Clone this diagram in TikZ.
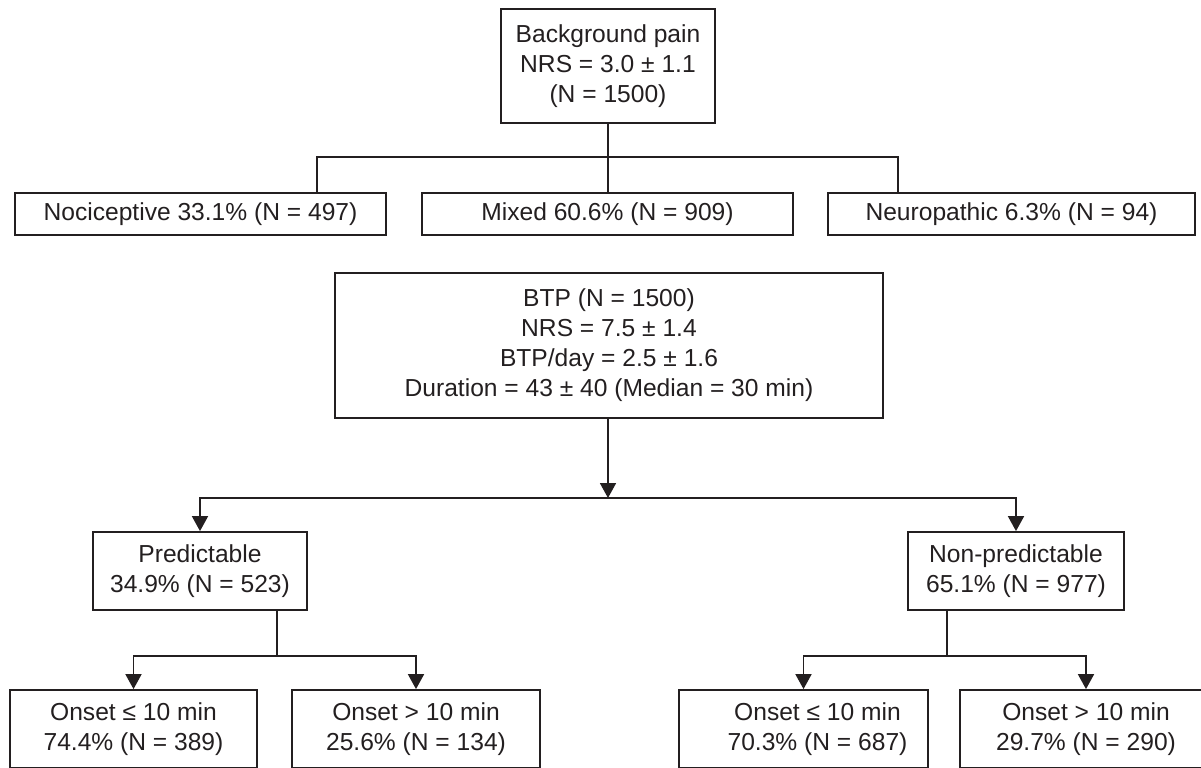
\documentclass[tikz,border=0pt]{standalone}
\usepackage{fontspec}
\setmainfont{Liberation Sans}
\usetikzlibrary{arrows.meta}
\definecolor{ink}{RGB}{35,31,32}
\begin{document}
\begin{tikzpicture}[x=0.5pt, y=-0.5pt, font=\fontsize{12.3}{15}\selectfont,
                box/.style={draw=ink, text=ink, line width=0.9pt, align=center, inner sep=0pt},
                link/.style={draw=ink, line width=0.9pt},
                arr/.style={link, -{Triangle[width=8pt, length=7.5pt]}}]
                \useasboundingbox (0, 0) rectangle (1201, 767);
                \clip (0, 0) rectangle (1201, 767);
                \node[box, minimum width=107pt, minimum height=57pt] (bg) at (608, 66) {Background pain\\NRS = 3.0 ± 1.1\\(N = 1500)};
                \node[box, minimum width=185.5pt, minimum height=21pt] (noci) at (200.5, 214) {Nociceptive 33.1\% (N = 497)};
                \node[box, minimum width=185.5pt, minimum height=21pt] (mixed) at (607.5, 214) {Mixed 60.6\% (N = 909)};
                \node[box, minimum width=183.5pt, minimum height=21pt] (neuro) at (1011.5, 214) {Neuropathic 6.3\% (N = 94)};
                \node[box, minimum width=274pt, minimum height=72.5pt] (btp) at (609, 345.5) {BTP (N = 1500)\\NRS = 7.5 ± 1.4\\BTP/day = 2.5 ± 1.6\\Duration = 43 ± 40 (Median = 30 min)};
                \node[box, minimum width=107pt, minimum height=39pt] (pred) at (200, 571) {Predictable\\34.9\% (N = 523)};
                \node[box, minimum width=108pt, minimum height=39pt] (nonpred) at (1016, 571) {Non-predictable\\65.1\% (N = 977)};
                \node[box, minimum width=123.5pt, minimum height=39pt] (predfast) at (133.5, 729) {Onset ≤ 10 min\\74.4\% (N = 389)};
                \node[box, minimum width=124pt, minimum height=39pt] (predslow) at (416, 729) {Onset > 10 min\\25.6\% (N = 134)};
                \node[box, minimum width=124.5pt, minimum height=39pt] (nonpredfast) at (803.5, 729) {\hspace*{14pt}Onset ≤ 10 min\\\hspace*{14pt}70.3\% (N = 687)};
                \node[box, minimum width=126pt, minimum height=39pt] (nonpredslow) at (1086, 729) {Onset > 10 min\\29.7\% (N = 290)};
                \coordinate (bgsplit) at (608, 157);
                \coordinate (nocitop) at (317, 193);
                \coordinate (neurotop) at (898, 193);
                \coordinate (btpsplit) at (608, 498);
                \coordinate (predsplit) at (277, 656);
                \coordinate (nonpredsplit) at (947, 656);
                \draw[link] (bg.south) -- (bgsplit);
                \draw[link] (nocitop) |- (bgsplit) -| (neurotop);
                \draw[link] (bgsplit) -- (mixed.north -| bgsplit);
                \draw[arr] (btp.south -| btpsplit) -- (btpsplit);
                \draw[arr] (btpsplit) -| (pred.north);
                \draw[arr] (btpsplit) -| (nonpred.north);
                \draw[link] (pred.south -| predsplit) -- (predsplit);
                \draw[arr] (predsplit) -| (predfast.north);
                \draw[arr] (predsplit) -| (predslow.north);
                \draw[link] (nonpred.south -| nonpredsplit) -- (nonpredsplit);
                \draw[arr] (nonpredsplit) -| (nonpredfast.north);
                \draw[arr] (nonpredsplit) -| (nonpredslow.north);
            \end{tikzpicture}
\end{document}
